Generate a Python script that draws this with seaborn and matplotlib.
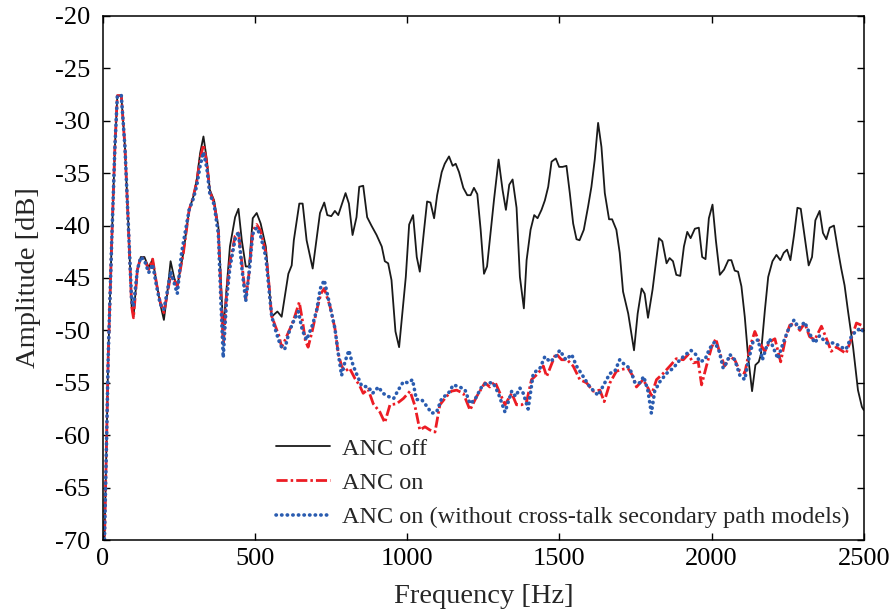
import numpy as np
import pandas as pd
import matplotlib
matplotlib.use("Agg")
import matplotlib.pyplot as plt
import seaborn as sns

# ---------------- data ----------------
freq_off = [4, 12, 17, 28, 39, 47, 60, 72, 83, 94, 100, 113, 124, 136, 150, 163, 176, 188, 200, 211,
            222, 234, 244, 264, 283, 297, 308, 319, 330, 341, 351, 365, 379, 387, 395, 406, 417, 434, 445, 456,
            469, 480, 492, 505, 518, 535, 545, 554, 573, 587, 609, 620, 627, 645, 656, 669, 689, 713, 727, 737,
            750, 762, 773, 797, 808, 820, 833, 842, 855, 868, 882, 899, 916, 926, 937, 948, 961, 973, 995, 1006,
            1019, 1031, 1041, 1054, 1065, 1076, 1088, 1098, 1113, 1123, 1137, 1149, 1159, 1170, 1184, 1197, 1208, 1219, 1230, 1241,
            1252, 1262, 1285, 1300, 1313, 1324, 1335, 1346, 1359, 1370, 1383, 1392, 1405, 1417, 1428, 1441, 1452, 1463, 1474, 1488,
            1499, 1510, 1523, 1534, 1545, 1556, 1566, 1580, 1594, 1605, 1616, 1627, 1638, 1649, 1663, 1673, 1687, 1698, 1709, 1726,
            1745, 1757, 1770, 1780, 1791, 1806, 1827, 1838, 1852, 1862, 1873, 1884, 1897, 1909, 1920, 1931, 1945, 1958, 1969, 1980,
            1991, 2003, 2014, 2027, 2041, 2055, 2065, 2076, 2087, 2098, 2109, 2120, 2133, 2144, 2155, 2162, 2175, 2186, 2200, 2213,
            2226, 2237, 2248, 2259, 2271, 2282, 2293, 2306, 2319, 2330, 2341, 2355, 2366, 2377, 2388, 2402, 2415, 2426, 2437, 2448,
            2465, 2481, 2494, 2500]
amp_off = [-71, -60, -52.5, -42.0, -32.5, -27.6, -27.6, -32.5, -39.8, -47.7, -48.7, -44.2, -43.0, -43.0, -44.0, -43.2, -45.5, -47.5, -49.0, -46.5,
           -43.4, -45.0, -45.8, -42.6, -38.5, -37.2, -35.6, -33.1, -31.5, -33.7, -36.6, -37.6, -40.1, -45.0, -50.0, -46.0, -42.0, -39.2, -38.4, -41.4,
           -43.9, -43.9, -39.3, -38.8, -39.8, -42.0, -45.5, -48.7, -48.2, -48.7, -44.6, -43.8, -41.4, -37.9, -37.9, -41.4, -44.1, -38.8, -37.8, -39.0,
           -39.1, -38.6, -39.0, -36.9, -37.9, -40.9, -39.2, -36.3, -36.2, -39.2, -40.0, -40.9, -42.0, -43.4, -43.6, -45.2, -50.1, -51.6, -44.9, -39.9,
           -39.0, -43.0, -44.4, -40.7, -37.7, -37.8, -39.3, -37.1, -34.9, -34.1, -33.4, -34.3, -34.1, -34.9, -36.4, -37.1, -37.1, -36.4, -37.0, -40.4,
           -44.6, -43.9, -37.5, -33.7, -36.6, -38.5, -36.1, -35.6, -38.3, -44.9, -47.9, -43.3, -40.4, -39.0, -39.3, -38.5, -37.6, -36.3, -33.9, -33.6,
           -34.4, -34.4, -34.3, -36.9, -39.8, -41.3, -41.4, -40.4, -38.2, -36.3, -33.7, -30.2, -32.5, -36.9, -39.4, -39.4, -40.4, -42.6, -46.3, -48.4,
           -51.9, -48.4, -46.0, -46.5, -48.8, -46.1, -41.2, -41.5, -43.6, -43.1, -43.4, -44.7, -44.8, -42.0, -40.6, -41.2, -40.3, -40.2, -43.0, -43.2,
           -39.3, -38.0, -41.4, -44.7, -44.2, -43.3, -43.3, -44.3, -44.4, -45.8, -48.7, -52.5, -55.8, -53.3, -53.0, -52.3, -48.1, -44.9, -43.4, -42.8,
           -43.3, -42.6, -42.3, -43.3, -40.9, -38.3, -38.4, -41.1, -43.8, -43.0, -39.5, -38.6, -40.7, -41.3, -40.2, -40.0, -42.3, -44.1, -45.7, -48.1,
           -51.6, -55.7, -57.3, -57.6]

freq_on = [4, 12, 17, 28, 39, 47, 60, 72, 83, 94, 100, 113, 124, 136, 150, 163, 176, 188, 200, 211,
           222, 234, 244, 264, 283, 297, 308, 319, 330, 341, 351, 365, 379, 387, 395, 406, 417, 434, 445, 456,
           469, 480, 492, 505, 518, 535, 545, 554, 565, 578, 587, 597, 612, 620, 632, 645, 655, 665, 674, 688,
           702, 716, 727, 746, 762, 773, 784, 795, 810, 828, 842, 855, 871, 888, 910, 926, 943, 965, 987, 1009,
           1025, 1041, 1058, 1074, 1091, 1107, 1129, 1145, 1162, 1184, 1206, 1228, 1255, 1271, 1288, 1306, 1321, 1343, 1359, 1376,
           1392, 1408, 1430, 1447, 1458, 1469, 1488, 1507, 1525, 1545, 1567, 1589, 1611, 1633, 1647, 1666, 1687, 1709, 1725, 1742,
           1753, 1775, 1791, 1802, 1819, 1841, 1863, 1884, 1907, 1923, 1940, 1956, 1967, 1983, 2000, 2014, 2027, 2043, 2060, 2076,
           2093, 2109, 2126, 2142, 2158, 2175, 2191, 2208, 2227, 2244, 2257, 2273, 2290, 2306, 2322, 2339, 2361, 2383, 2393, 2410,
           2426, 2442, 2459, 2476, 2492, 2500]
amp_on = [-71, -60, -52.5, -42.0, -32.5, -27.6, -27.6, -32.5, -39.8, -47.7, -48.8, -44.2, -43.0, -43.2, -44.2, -43.2, -45.6, -47.3, -48.3, -46.5,
          -44.8, -45.2, -45.8, -42.6, -38.5, -37.2, -35.8, -33.6, -32.3, -34.0, -36.8, -37.8, -40.5, -46.0, -51.5, -46.5, -43.5, -41.0, -40.7, -43.5,
          -47.0, -44.5, -40.5, -39.9, -40.5, -42.6, -45.5, -48.6, -49.5, -50.5, -51.6, -51.0, -50.0, -49.5, -48.5, -47.3, -49.0, -51.0, -51.6, -50.0,
          -48.1, -46.5, -46.0, -47.7, -49.8, -52.2, -53.4, -53.9, -53.6, -54.6, -55.2, -56.0, -55.6, -57.0, -57.8, -58.8, -57.1, -57.0, -56.5, -55.8,
          -57.2, -59.5, -59.2, -59.5, -59.7, -57.1, -56.3, -55.8, -55.7, -56.0, -57.6, -56.3, -55.0, -55.4, -54.9, -56.1, -57.1, -56.0, -57.1, -57.1,
          -56.8, -54.7, -54.1, -53.4, -54.4, -53.6, -52.2, -52.8, -52.8, -53.4, -54.7, -55.0, -55.8, -55.7, -56.8, -55.0, -53.9, -53.7, -53.6, -54.4,
          -55.4, -54.7, -55.5, -56.2, -54.7, -54.1, -53.4, -52.7, -52.8, -52.3, -53.1, -53.0, -55.2, -53.4, -51.6, -50.8, -52.2, -53.4, -52.5, -52.8,
          -53.9, -54.1, -51.6, -50.1, -51.2, -52.0, -51.1, -50.8, -53.0, -50.6, -49.5, -49.3, -50.0, -49.3, -50.6, -50.9, -49.6, -51.2, -52.0, -51.6,
          -51.9, -52.2, -50.8, -49.3, -49.5, -50.2]

freq_nx = [4, 12, 17, 28, 39, 47, 60, 72, 83, 94, 100, 113, 124, 136, 150, 163, 176, 188, 200, 211,
           222, 234, 244, 258, 283, 297, 308, 319, 330, 341, 351, 365, 379, 387, 395, 406, 417, 434, 445, 456,
           469, 480, 492, 505, 518, 535, 545, 554, 565, 578, 587, 597, 612, 628, 642, 655, 669, 688, 702, 714,
           727, 746, 762, 773, 784, 795, 808, 818, 828, 850, 872, 886, 905, 920, 937, 955, 970, 987, 1003, 1017,
           1030, 1047, 1063, 1080, 1096, 1113, 1135, 1151, 1173, 1190, 1206, 1222, 1244, 1260, 1282, 1299, 1321, 1343, 1356, 1370,
           1381, 1397, 1414, 1436, 1452, 1469, 1485, 1501, 1521, 1540, 1556, 1578, 1600, 1627, 1649, 1666, 1682, 1698, 1715, 1731,
           1748, 1764, 1777, 1791, 1802, 1813, 1830, 1852, 1874, 1896, 1915, 1932, 1948, 1962, 1978, 1994, 2010, 2025, 2038, 2049,
           2060, 2076, 2093, 2109, 2120, 2136, 2153, 2167, 2180, 2191, 2202, 2218, 2235, 2251, 2271, 2287, 2306, 2322, 2339, 2355,
           2377, 2404, 2426, 2442, 2459, 2476, 2492, 2500]
amp_nx = [-71, -60, -52.5, -42.0, -32.5, -27.6, -27.6, -32.5, -39.8, -47.2, -47.7, -44.2, -43.0, -43.3, -44.5, -43.7, -45.8, -47.5, -48.0, -46.3,
          -44.4, -45.5, -46.5, -42.6, -38.5, -37.4, -36.2, -34.3, -33.0, -34.5, -37.0, -38.0, -40.8, -47.0, -52.6, -47.0, -44.0, -41.3, -40.6, -44.0,
          -47.2, -44.5, -40.8, -40.2, -41.0, -43.0, -46.0, -48.6, -49.8, -51.0, -51.6, -51.8, -50.1, -49.0, -48.2, -50.0, -50.9, -49.5, -48.1, -46.0,
          -45.2, -47.7, -49.8, -52.2, -54.3, -53.0, -51.9, -53.0, -53.8, -55.3, -55.4, -56.0, -55.4, -56.0, -56.3, -56.5, -55.7, -54.9, -55.0, -54.7,
          -56.6, -56.6, -57.2, -57.9, -57.8, -56.5, -56.0, -55.2, -55.4, -55.7, -57.0, -56.6, -55.4, -55.0, -55.0, -56.0, -57.8, -55.8, -56.3, -55.5,
          -56.0, -57.5, -54.1, -53.6, -52.5, -53.0, -52.6, -51.9, -52.8, -52.3, -53.4, -54.4, -55.4, -56.2, -55.0, -54.1, -53.9, -52.8, -53.3, -53.6,
          -55.0, -55.0, -54.4, -55.8, -57.9, -55.8, -54.9, -54.1, -53.6, -52.8, -52.3, -51.9, -52.3, -53.0, -52.8, -51.7, -51.1, -52.0, -53.6, -53.1,
          -52.3, -52.8, -54.3, -54.7, -53.0, -51.1, -50.9, -52.8, -51.6, -50.8, -51.6, -52.7, -51.2, -50.0, -49.0, -49.8, -49.2, -50.3, -51.2, -50.5,
          -51.2, -51.2, -51.6, -51.8, -50.6, -50.0, -49.8, -50.2]

series_labels = ["ANC off", "ANC on", "ANC on (without cross-talk secondary path models)"]
x_ticks = [0, 500, 1000, 1500, 2000, 2500]
y_ticks = [-70, -65, -60, -55, -50, -45, -40, -35, -30, -25, -20]

# ---------------- plotting ----------------
sns.set_style("ticks")
plt.rcParams["font.family"] = ["Liberation Serif", "DejaVu Serif"]
plt.rcParams["axes.unicode_minus"] = False

df = pd.concat([
    pd.DataFrame({"f": freq_off, "a": amp_off, "s": series_labels[0]}),
    pd.DataFrame({"f": freq_on, "a": amp_on, "s": series_labels[1]}),
    pd.DataFrame({"f": freq_nx, "a": amp_nx, "s": series_labels[2]}),
], ignore_index=True)

fig = plt.figure(figsize=(8.96, 6.14), dpi=100)
ax = fig.add_axes([0.115, 0.1205, 0.849, 0.8535])

styles = [
    dict(color="#1a1a1a", lw=1.3, ls="-"),
    dict(color="#ec1c24", lw=2.0, ls=(0, (4, 1.1, 0.9, 1.1))),
    dict(color="#2a5cb0", lw=2.6, ls=(0, (0.1, 1.45))),
]
for lab, st in zip(series_labels, styles):
    sub = df[df["s"] == lab]
    line_ax = sns.lineplot(data=sub, x="f", y="a", ax=ax, sort=False, estimator=None,
                           color=st["color"], linewidth=st["lw"], label=lab)
    ln = line_ax.get_lines()[-1]
    ln.set_linestyle(st["ls"])
    if lab == series_labels[2]:
        ln.set_dash_capstyle("round")

ax.set_xlim(0, 2500)
ax.set_ylim(-70, -20)
ax.set_xticks(x_ticks)
ax.set_yticks(y_ticks)
ax.tick_params(direction="in", top=True, right=True, length=5, width=1,
               labelsize=19, colors="black")
ax.tick_params(axis="y", pad=9)
ax.tick_params(axis="x", pad=6)
for sp in ax.spines.values():
    sp.set_visible(True)
    sp.set_linewidth(1.1)
    sp.set_color("black")
ax.set_xlabel("Frequency [Hz]", fontsize=20.5, labelpad=10)
ax.set_ylabel("Amplitude [dB]", fontsize=20.5, labelpad=10)

leg = ax.legend(loc="lower left", bbox_to_anchor=(0.1987, -0.019), frameon=False,
                fontsize=17.5, handlelength=2.2, handletextpad=0.5, labelspacing=0.5)
for h, st in zip(leg.get_lines(), styles):
    h.set_linestyle(st["ls"])
    h.set_linewidth(st["lw"])
    if st is styles[2]:
        h.set_dash_capstyle("round")

fig.savefig("out.png", dpi=100)
